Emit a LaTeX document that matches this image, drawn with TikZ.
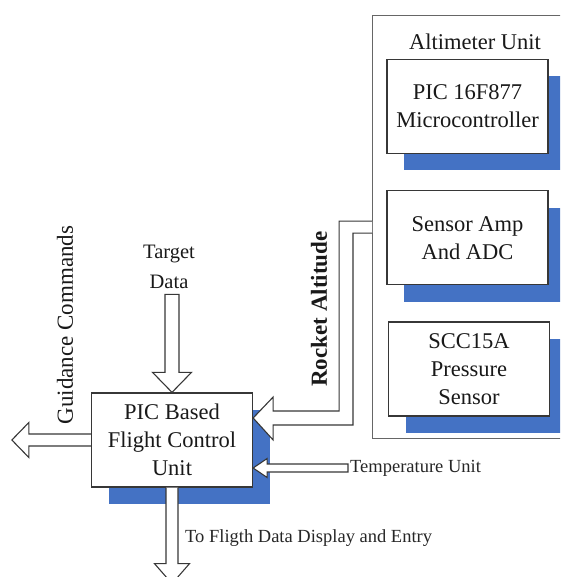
\documentclass[tikz,border=0pt]{standalone}
\usepackage{fontspec}
\setmainfont{Liberation Serif}
\usetikzlibrary{positioning,calc,shadows}
\definecolor{shblue}{RGB}{68,114,196}
\definecolor{edge}{RGB}{55,55,55}

\begin{document}
\begin{tikzpicture}[
    x=1pt, y=-1pt,
    box/.style={draw=edge, line width=1.3pt, fill=white, align=center, minimum width=161pt, minimum height=94pt, inner sep=0pt, text=black!90, font=\fontsize{22.5}{28}\selectfont, drop shadow={shadow xshift=17pt, shadow yshift=-17pt, fill=shblue, opacity=1}},
    hollow/.style={draw=edge, line width=1.1pt, fill=white, line join=miter},
    lbl/.style={inner sep=2pt, text=black!85, font=\fontsize{18.5}{22}\selectfont},
]
    \useasboundingbox (0,0) rectangle (560,577);
    \clip (0,0) rectangle (560,577);

    % Altimeter side
    \node[draw=black!60, line width=1.3pt, fill=white, minimum width=240pt, minimum height=423pt, anchor=north west] (alt) at (372,15) {};
    \node[text=black!90, font=\fontsize{22.5}{27}\selectfont] (altlbl) at (475,42) {Altimeter Unit};
    \node[box] (pic) at (467.5,106.5) {PIC 16F877\\Microcontroller};
    \node[box, below=36pt of pic] (amp) {Sensor Amp\\And ADC};
    \node[box, below=36pt of amp, xshift=1.5pt] (scc) {SCC15A\\Pressure\\Sensor};

    % Flight control unit and its labels
    \node[box] (fcu) at (172,440) {PIC Based\\Flight Control\\Unit};
    \node[align=center, text=black!90, font=\fontsize{20.5}{30}\selectfont] (tgt) at (169,267) {Target\\Data};
    \node[rotate=90, text=black!90, font=\fontsize{23}{27}\selectfont] (gdc) at (65,325) {Guidance Commands};
    \node[rotate=90, text=black!90, font=\bfseries\fontsize{23}{27}\selectfont] (ralt) at (319,309) {Rocket Altitude};
    \node[lbl, anchor=west] (temp) at (348,468) {Temperature Unit};
    \node[lbl, anchor=west] (disp) at (183,538) {To Fligth Data Display and Entry};

    % Hollow arrows
    \draw[hollow] (fcu.north) -- ++(19.5,-20) -- ++(-12.5,0) |- ($(tgt.south -| fcu.north)+(-7,2)$) -- ($(fcu.north)+(-7,-20)$) -- ++(-12.5,0) -- cycle;
    \draw[hollow] ($(fcu.west)+(0,-6)$) -- ++(-62,0) -- ++(0,-11.5) -- ++(-17,17.5) -- ++(17,17.5) -- ++(0,-11.5) -- ++(62,0);
    \coordinate (rtip) at ($(fcu.east)+(0,-22)$);
    \draw[hollow] ($(alt.west)+(0,-6)$) -| ($(rtip)+(86,-7)$) -- ($(rtip)+(20,-7)$) -- ++(0,-14) -- (rtip) -- ++(20,22) -- ++(0,-15) -| ($(alt.west)+(-19,6)$) -- ++(19,0);
    \draw[hollow] (fcu.east |- temp.west) -- ++(14,-9.5) -- ++(0,5.5) -- ($(temp.west)+(0,-4)$) -- ++(0,8) -- ($(fcu.east |- temp.west)+(14,4)$) -- ++(0,5.5) -- cycle;
    \draw[hollow] ($(fcu.south)+(-6,0)$) -- ++(0,76) -- ++(-11.5,0) -- ++(17.5,20) -- ++(17.5,-20) -- ++(-11.5,0) -- ++(0,-76);

\end{tikzpicture}
\end{document}
